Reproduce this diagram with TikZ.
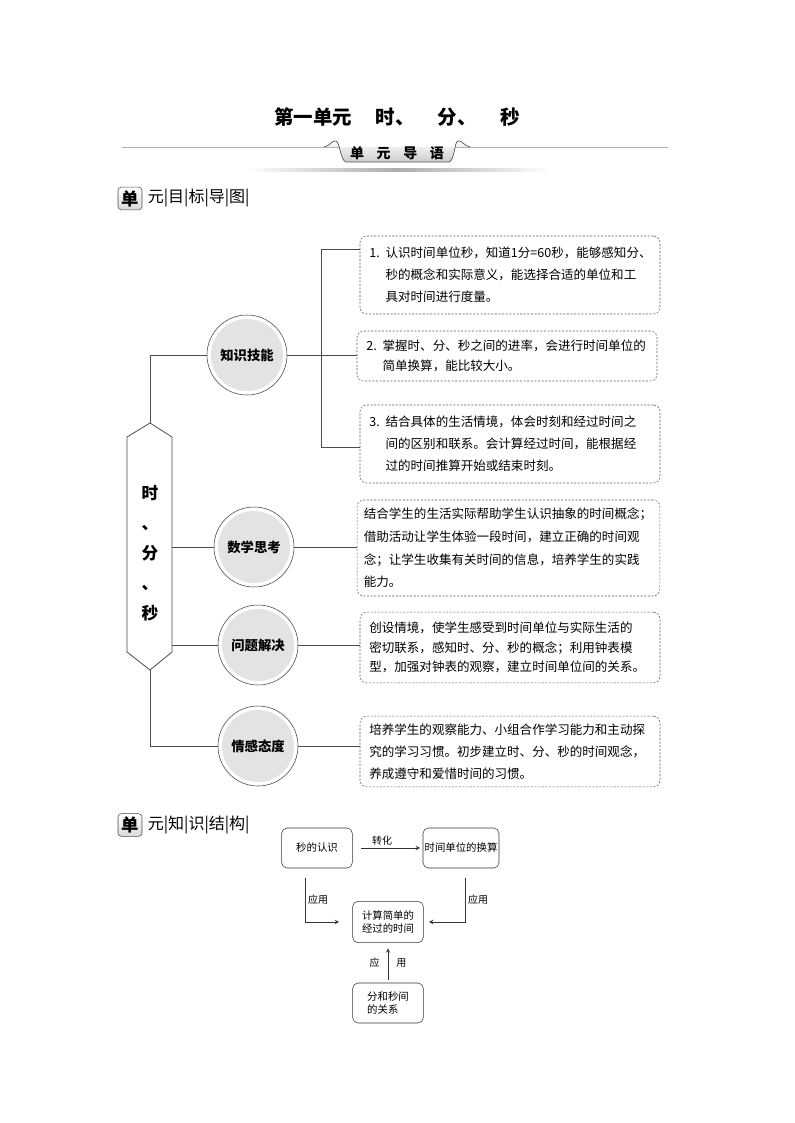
\documentclass[tikz,border=0pt]{standalone}
\usepackage{fontspec}
\setmainfont{Noto Sans CJK SC}
\usetikzlibrary{positioning}

\tikzset{
  line/.style={draw=gray!60!black, line width=0.6pt},
  goal/.style={draw=gray!70!black, dashed, dash pattern=on 1.5pt off 1.2pt, rounded corners=5pt, align=left, text width=211pt, inner xsep=7pt, font=\fontsize{9.4}{16.5}\selectfont},
  tight/.style={font=\fontsize{9.4}{14.5}\selectfont},
  aspect/.style={circle, draw=gray!50!black, fill=white, minimum size=60pt, inner sep=0pt, font=\fontsize{10}{12}\selectfont\bfseries,
    path picture={\fill[gray!22] (path picture bounding box.center) circle (27pt);}},
  flow/.style={draw=black!80, rounded corners=4pt, minimum width=53pt, minimum height=30pt, inner sep=1pt, font=\fontsize{7.8}{10}\selectfont},
  arr/.style={-stealth, draw=black!80, line width=0.5pt},
  tag/.style={inner sep=2pt, font=\fontsize{7.5}{9}\selectfont},
  iconbox/.style={draw=gray!60!black, rounded corners=2.5pt, top color=white, bottom color=gray!30, minimum width=18pt, minimum height=17pt, inner sep=0pt, font=\fontsize{13}{13}\selectfont\bfseries},
  heading/.style={inner sep=0pt, font=\fontsize{12}{13}\selectfont}
}

\begin{document}
\begin{tikzpicture}[x=0.75pt, y=-0.75pt]
\useasboundingbox (0,0) rectangle (794,1123);

% 标题
\node[font=\fontsize{14.6}{16}\selectfont\bfseries] (title) at (397,117) {第一单元\hspace{1.2em}时、\hspace{1.2em}分、\hspace{1.2em}秒};
\draw[gray!60, line width=0.5pt] (122,147) -- (668,147);
\shade[left color=white, right color=white, middle color=gray!65] (245,168.5) rectangle (550,172);
\draw[gray!60!black, line width=0.5pt, top color=white, bottom color=gray!40] (324,147) .. controls (330,146) and (332,140) .. (336,141) .. controls (340,142) and (340,160) .. (346,162) -- (449,162) .. controls (455,160) and (454,142) .. (458,141) .. controls (462,140) and (464,146) .. (470,147);
\node[font=\fontsize{10.5}{12}\selectfont\bfseries] (tabtext) at (397,153) {单\hspace{0.9em}元\hspace{0.9em}导\hspace{0.9em}语};

% 单元目标导图
\node[iconbox] (icon1) at (130,198.5) {单};
\node[heading, right=4pt of icon1] (head1) {元|目|标|导|图|};

\coordinate (htop) at (150,423);
\coordinate (hbot) at (150,670);
\draw[line, fill=white] (htop) -- (127,437) -- (127,652) -- (hbot) -- (172,652) -- (172,437) -- cycle;
\node[font=\fontsize{12.5}{22.5}\selectfont\bfseries, align=center] (hex) at (150,553) {时\\、\\分\\、\\秒};

\node[aspect] (skill) at (247,355) {知识技能};
\node[aspect] (think) at (254,547) {数学思考};
\node[aspect] (solve) at (258,645) {问题解决};
\node[aspect] (attitude) at (258,746) {情感态度};

\node[goal, minimum height=58.5pt] (g1) at (510,275) {\makebox[1.3em][l]{1.}认识时间单位秒，知道1分=60秒，能够感知分、\\\hspace*{1.3em}秒的概念和实际意义，能选择合适的单位和工\\\hspace*{1.3em}具对时间进行度量。};
\node[goal, tight, minimum height=37.5pt] (g2) at (507,356) {\makebox[1.3em][l]{2.}掌握时、分、秒之间的进率，会进行时间单位的\\\hspace*{1.3em}简单换算，能比较大小。};
\node[goal, minimum height=58.5pt] (g3) at (510,444) {\makebox[1.3em][l]{3.}结合具体的生活情境，体会时刻和经过时间之\\\hspace*{1.3em}间的区别和联系。会计算经过时间，能根据经\\\hspace*{1.3em}过的时间推算开始或结束时刻。};
\node[goal, minimum height=72pt, text width=217pt, inner xsep=5pt, font=\fontsize{9.4}{17}\selectfont] (g4) at (508.5,548) {结合学生的生活实际帮助学生认识抽象的时间概念；\\借助活动让学生体验一段时间，建立正确的时间观\\念；让学生收集有关时间的信息，培养学生的实践\\能力。};
\node[goal, tight, minimum height=53pt] (g5) at (510,647.5) {创设情境，使学生感受到时间单位与实际生活的\\密切联系，感知时、分、秒的概念；利用钟表模\\型，加强对钟表的观察，建立时间单位间的关系。};
\node[goal, minimum height=53pt] (g6) at (510,751.5) {培养学生的观察能力、小组合作学习能力和主动探\\究的学习习惯。初步建立时、分、秒的时间观念，\\养成遵守和爱惜时间的习惯。};

\coordinate (bus1) at (321,249);
\coordinate (bus3) at (321,447);
\coordinate (hr2) at (172,547);
\coordinate (hr3) at (172,645);

\draw[line] (htop) |- (skill.west);
\draw[line] (skill.east) -- (skill.east -| g2.west);
\draw[line] (bus1 -| g1.west) -- (bus1) -- (bus3) -- (bus3 -| g3.west);
\draw[line] (hr2) -- (think.west);
\draw[line] (think.east) -- (think.east -| g4.west);
\draw[line] (hr3) -- (solve.west);
\draw[line] (solve.east) -- (solve.east -| g5.west);
\draw[line] (hbot) |- (attitude.west);
\draw[line] (attitude.east) -- (attitude.east -| g6.west);

% 单元知识结构
\node[iconbox] (icon2) at (130,825) {单};
\node[heading, right=4pt of icon2] (head2) {元|知|识|结|构|};

\node[flow] (know) at (317,848) {秒的认识};
\node[flow, minimum width=57pt] (convert) at (461,848) {时间单位的换算};
\node[flow, align=center, minimum height=31pt] (calc) at (388,922) {计算简单的\\经过的时间};
\node[flow, align=left] (relation) at (388,1003) {分和秒间\\的关系};

\draw[arr, shorten <=6.5pt, shorten >=2pt] (know) -- node[tag, above, pos=0.42] (lab1) {转化} (convert);
\draw[arr] ([xshift=-9pt, yshift=-7pt]know.south) |- node[tag, right, pos=0.25] (lab2) {应用} ([xshift=-10pt]calc.west);
\draw[arr] ([xshift=3pt, yshift=-7pt]convert.south) |- node[tag, right, pos=0.25] (lab3) {应用} ([xshift=4pt]calc.east);
\draw[arr, shorten <=2pt, shorten >=4pt] (relation) -- node[tag, left=4pt] (lab4) {应} node[tag, right=4pt] (lab5) {用} (calc);

\end{tikzpicture}
\end{document}
